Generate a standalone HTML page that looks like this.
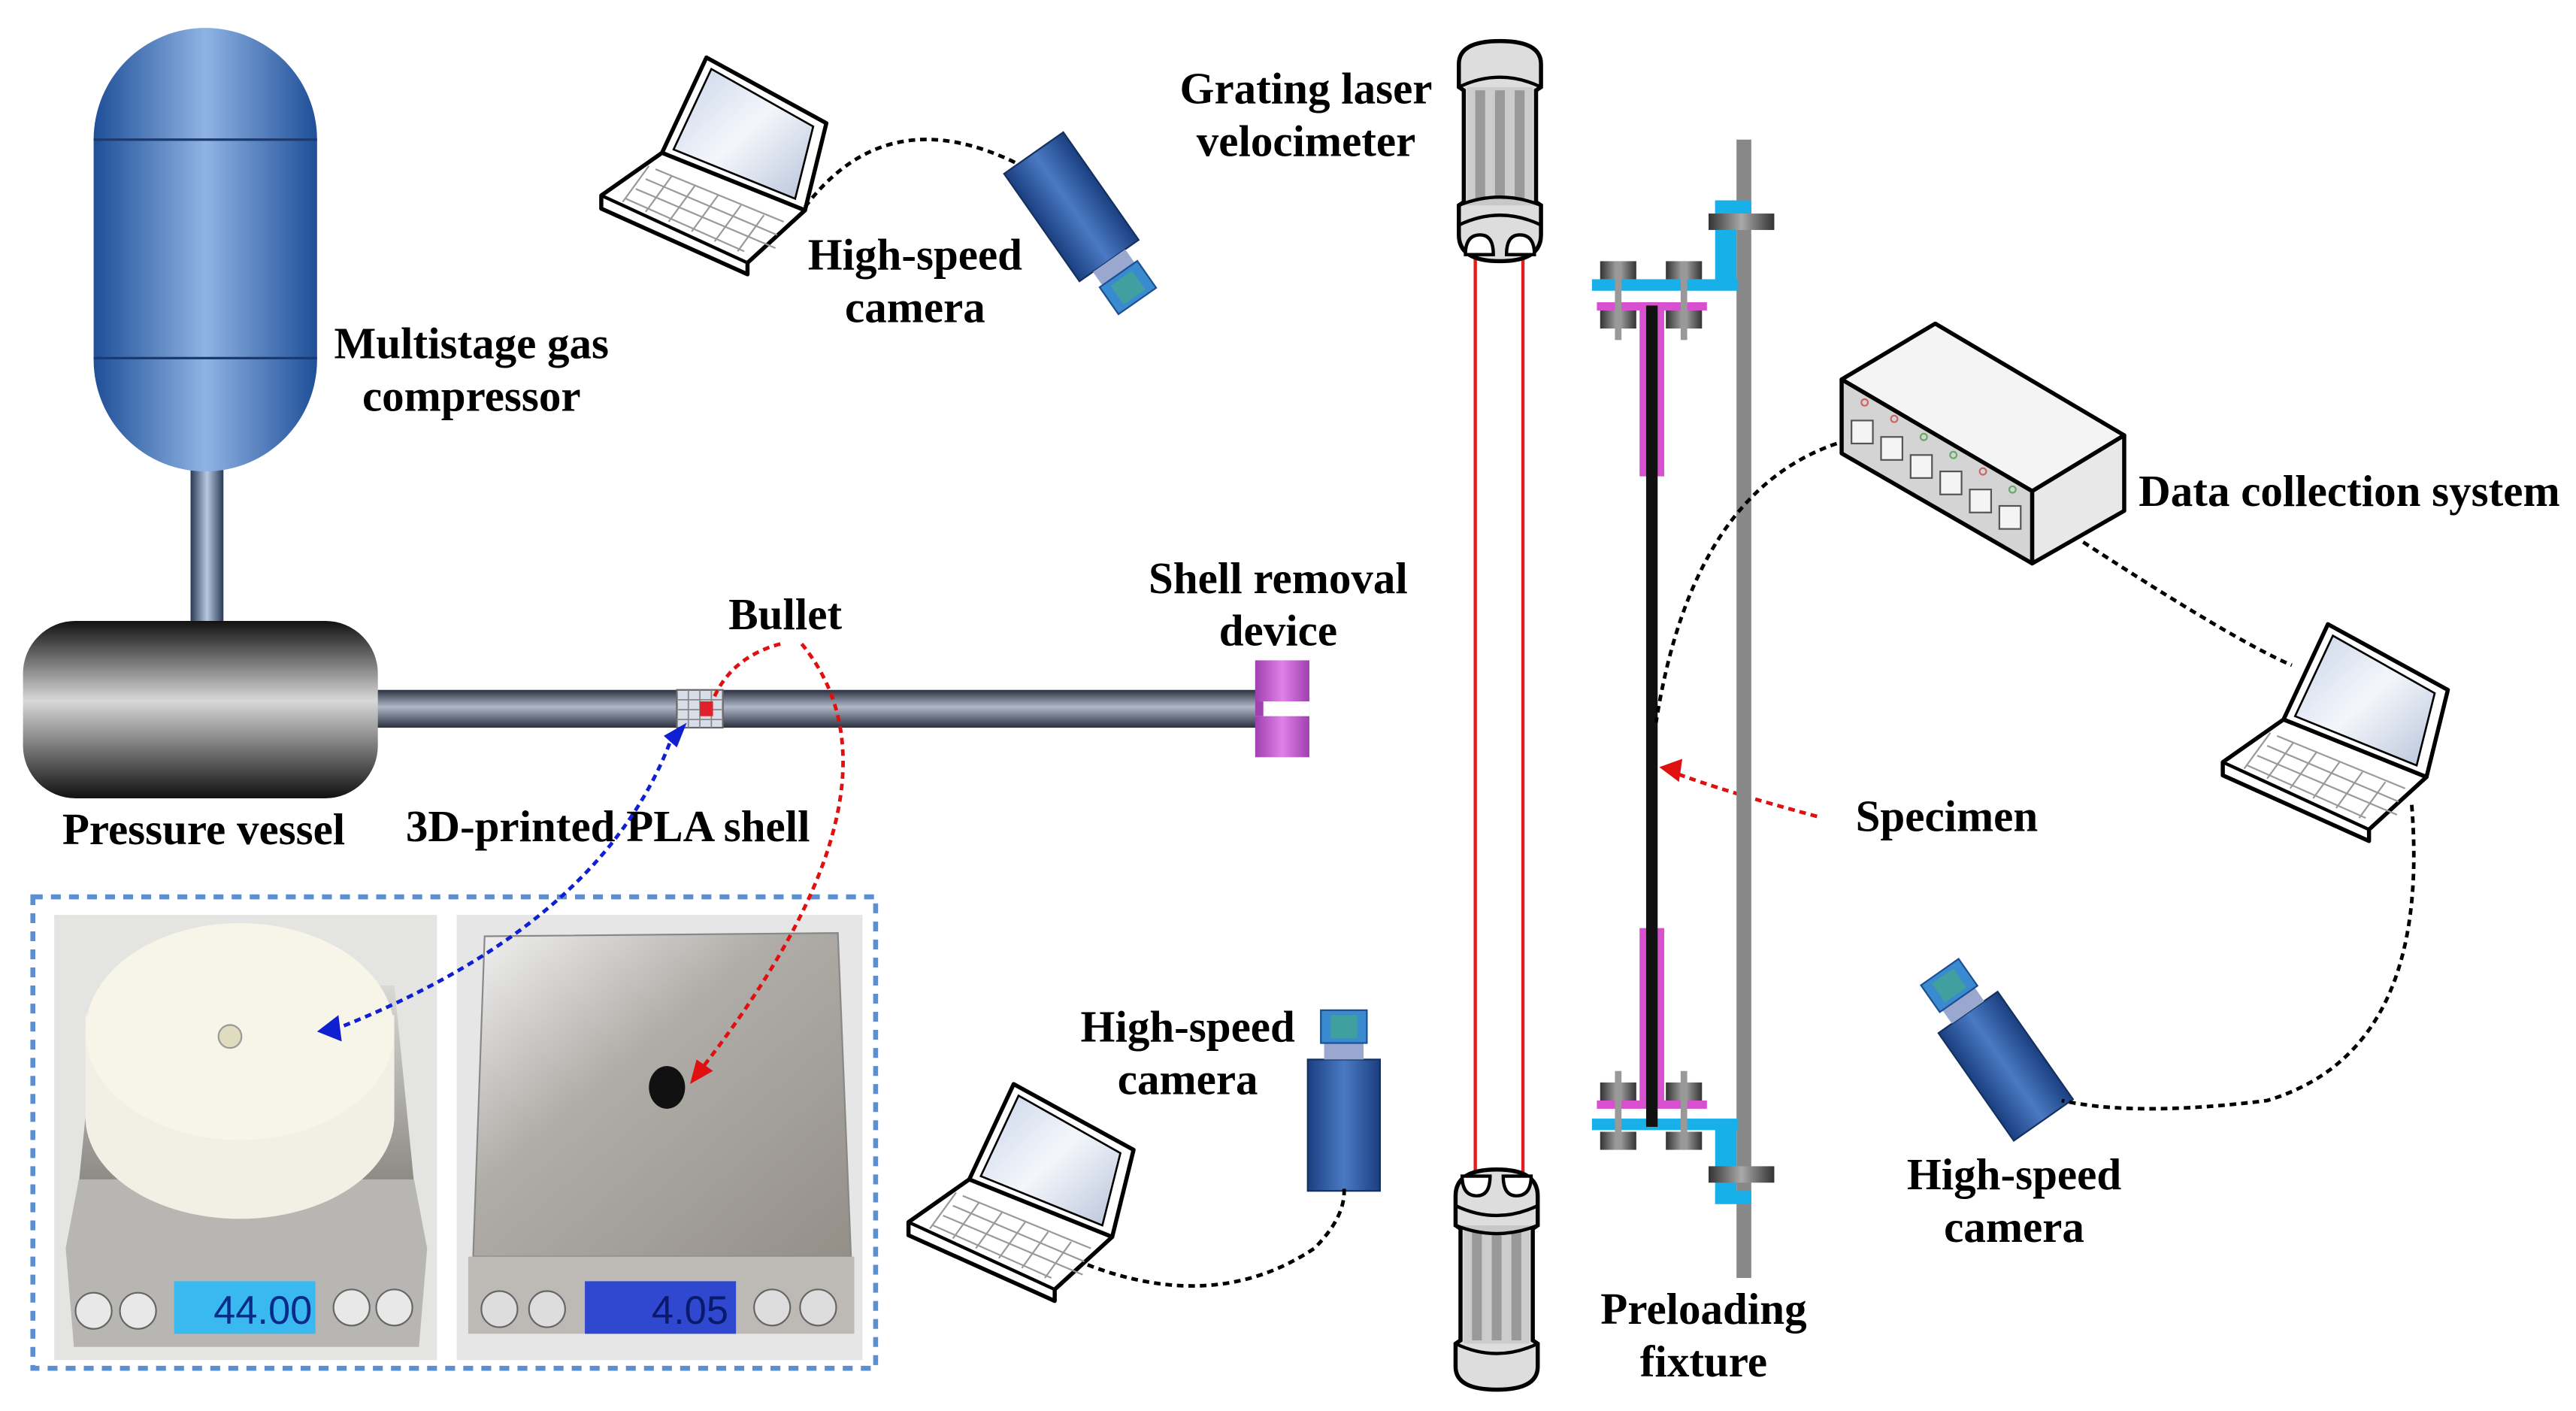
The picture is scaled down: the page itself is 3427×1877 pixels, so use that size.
<!DOCTYPE html>
<html><head><meta charset="utf-8"><style>
html,body{margin:0;padding:0;background:#fff;width:3427px;height:1877px;overflow:hidden}
svg{display:block}
text{font-family:"Liberation Serif",serif;font-weight:bold;font-size:27px;fill:#000;text-anchor:middle}
</style></head><body>
<svg width="3427" height="1877" viewBox="0 0 1568 859" preserveAspectRatio="none" xmlns="http://www.w3.org/2000/svg">
<defs>
<linearGradient id="gBlue" x1="0" x2="1" y1="0" y2="0">
<stop offset="0" stop-color="#1f4f98"/><stop offset="0.5" stop-color="#8fb3e3"/><stop offset="1" stop-color="#1f4f98"/></linearGradient>
<linearGradient id="gDark" x1="0" x2="0" y1="0" y2="1">
<stop offset="0" stop-color="#111"/><stop offset="0.45" stop-color="#d8d8d8"/><stop offset="1" stop-color="#111"/></linearGradient>
<linearGradient id="gBar" x1="0" x2="0" y1="0" y2="1">
<stop offset="0" stop-color="#2a3040"/><stop offset="0.45" stop-color="#b0b8c8"/><stop offset="1" stop-color="#2a3040"/></linearGradient>
<linearGradient id="gPipe" x1="0" x2="1" y1="0" y2="0">
<stop offset="0" stop-color="#2a3a55"/><stop offset="0.5" stop-color="#b8c8e0"/><stop offset="1" stop-color="#2a3a55"/></linearGradient>
<linearGradient id="gCam" x1="0" x2="1" y1="0" y2="0">
<stop offset="0" stop-color="#1b3f80"/><stop offset="0.5" stop-color="#4a7ac4"/><stop offset="1" stop-color="#1b3f80"/></linearGradient>
<linearGradient id="gNut" x1="0" x2="1" y1="0" y2="0">
<stop offset="0" stop-color="#333"/><stop offset="0.5" stop-color="#aaa"/><stop offset="1" stop-color="#333"/></linearGradient>
<linearGradient id="gPurple" x1="0" x2="1" y1="0" y2="0">
<stop offset="0" stop-color="#a040b0"/><stop offset="0.5" stop-color="#e080e8"/><stop offset="1" stop-color="#a040b0"/></linearGradient>
<linearGradient id="gScreen" x1="0" x2="1" y1="0" y2="1">
<stop offset="0" stop-color="#c8d4e8"/><stop offset="0.5" stop-color="#f4f6fb"/><stop offset="1" stop-color="#b8c4da"/></linearGradient>
<linearGradient id="gScaleL" x1="0" x2="0" y1="0" y2="1">
<stop offset="0" stop-color="#d8d8d6"/><stop offset="1" stop-color="#8d8a85"/></linearGradient>
<linearGradient id="gScaleR" x1="0" x2="1" y1="0" y2="1">
<stop offset="0" stop-color="#f2f2f2"/><stop offset="0.4" stop-color="#b0ada8"/><stop offset="1" stop-color="#948f88"/></linearGradient>
<g id="laptop">
<path d="M38,58 L125,93 L90,125 L90,132 L1,92 L1,84 Z" fill="#fff" stroke="#000" stroke-width="2.5" stroke-linejoin="round"/>
<path d="M1,84 L90,125 L125,93" fill="none" stroke="#000" stroke-width="2"/>
<path d="M38,58 L65,0 L138,40 L125,93 Z" fill="#fff" stroke="#000" stroke-width="2.5" stroke-linejoin="round"/>
<path d="M45,56 L68,7 L130,42 L119,86 Z" fill="url(#gScreen)" stroke="#000" stroke-width="1.2"/>
<g stroke="#999" stroke-width="1" fill="none">
<path d="M22,80 l85,36 M28,74 l80,34 M34,68 l78,32 M16,86 l72,32"/>
<path d="M30,66 l-16,22 M44,72 l-16,22 M58,78 l-16,22 M72,84 l-16,22 M86,90 l-16,22 M100,96 l-16,22"/>
</g>
</g>
<g id="velo">
<path d="M3,14 Q3,0 28,0 Q53,0 53,14 L53,28 L50,30 L50,98 L53,100 L53,118 Q53,134 28,134 Q3,134 3,118 L3,100 L6,98 L6,30 L3,28 Z" fill="#ddd" stroke="#000" stroke-width="2.5"/>
<rect x="8" y="28" width="40" height="72" fill="#ccc"/>
<g fill="#999"><rect x="13" y="30" width="6" height="68"/><rect x="25" y="30" width="6" height="68"/><rect x="37" y="30" width="6" height="68"/></g>
<path d="M3,28 Q28,16 53,28" fill="none" stroke="#000" stroke-width="2"/>
<path d="M3,100 Q28,90 53,100" fill="#c8c8c8" stroke="#000" stroke-width="2"/>
<path d="M3,112 Q28,100 53,112" fill="none" stroke="#000" stroke-width="2"/>
<path d="M7,130 Q7,118 16,118 Q24,118 24,130 Z" fill="#fff" stroke="#000" stroke-width="2"/>
<path d="M32,130 Q32,118 40,118 Q49,118 49,130 Z" fill="#fff" stroke="#000" stroke-width="2"/>
</g>
<g id="cam">
<rect x="-22" y="-45" width="44" height="80" fill="url(#gCam)" stroke="#14305e" stroke-width="1"/>
<rect x="-12" y="35" width="24" height="10" fill="#9aa8d0"/>
<rect x="-14" y="45" width="28" height="20" fill="#3a8ad0" stroke="#1b4f90"/>
<rect x="-8" y="48" width="16" height="14" fill="#40a0a0"/>
</g>
<g id="nut"><rect x="0" y="0" width="22" height="11" fill="url(#gNut)"/></g>
</defs>

<rect x="116" y="280" width="20" height="102" fill="url(#gPipe)"/>
<rect x="57" y="17" width="136" height="270" rx="68" ry="68" fill="url(#gBlue)"/>
<line x1="57" y1="85" x2="193" y2="85" stroke="#1b3a70" stroke-width="1.5"/>
<line x1="57" y1="218" x2="193" y2="218" stroke="#1b3a70" stroke-width="1.5"/>
<rect x="225" y="420" width="545" height="23" fill="url(#gBar)"/>
<rect x="14" y="378" width="216" height="108" rx="32" ry="32" fill="url(#gDark)"/>
<rect x="412" y="420" width="28" height="23" fill="#d8dde8" stroke="#666" stroke-width="1"/>
<g stroke="#888" stroke-width="0.8"><path d="M412,426 h28 M412,432 h28 M412,438 h28 M419,420 v23 M426,420 v23 M433,420 v23"/></g>
<rect x="426" y="427" width="8" height="9" fill="#e0202a"/>
<rect x="764" y="402" width="33" height="59" fill="url(#gPurple)"/>
<rect x="764" y="427" width="33" height="9" fill="#fff"/>
<rect x="764" y="427" width="5" height="9" fill="#a040b0"/>

<text x="287" y="218">Multistage gas</text>
<text x="287" y="250">compressor</text>
<text x="124" y="514">Pressure vessel</text>
<text x="478" y="383">Bullet</text>
<text x="370" y="512">3D-printed PLA shell</text>
<text x="778" y="361">Shell removal</text>
<text x="778" y="393">device</text>
<text x="557" y="164">High-speed</text>
<text x="557" y="196">camera</text>
<text x="795" y="63">Grating laser</text>
<text x="795" y="95">velocimeter</text>
<text x="1430" y="308">Data collection system</text>
<text x="1185" y="506">Specimen</text>
<text x="723" y="634">High-speed</text>
<text x="723" y="666">camera</text>
<text x="1037" y="806">Preloading</text>
<text x="1037" y="838">fixture</text>
<text x="1226" y="724">High-speed</text>
<text x="1226" y="756">camera</text>

<rect x="20" y="546" width="513" height="287" fill="none" stroke="#5b8fd0" stroke-width="3" stroke-dasharray="6,5"/>
<rect x="33" y="557" width="233" height="271" fill="#e4e4e2"/>
<path d="M48,720 L60,600 L240,600 L252,720 Z" fill="url(#gScaleL)"/>
<path d="M40,760 L48,718 L252,718 L260,760 L255,820 L45,820 Z" fill="#b8b6b2"/>
<ellipse cx="146" cy="680" rx="94" ry="62" fill="#f2f0e4"/>
<rect x="52" y="618" width="188" height="62" fill="#f2f0e4"/>
<ellipse cx="146" cy="628" rx="94" ry="66" fill="#f7f5e8"/>
<circle cx="140" cy="631" r="7" fill="#e0dcc0" stroke="#999" stroke-width="1"/>
<rect x="106" y="780" width="86" height="32" fill="#3ab8f0"/>
<text x="160" y="806" style="font-family:'Liberation Sans',sans-serif;font-weight:normal;font-size:24px;fill:#0a2a8a">44.00</text>
<circle cx="57" cy="798" r="11" fill="#e8e8e8" stroke="#666"/><circle cx="84" cy="798" r="11" fill="#e8e8e8" stroke="#666"/>
<circle cx="214" cy="796" r="11" fill="#e8e8e8" stroke="#666"/><circle cx="240" cy="796" r="11" fill="#e8e8e8" stroke="#666"/>

<rect x="278" y="557" width="247" height="271" fill="#e6e6e6"/>
<path d="M295,570 L510,568 L518,765 L288,765 Z" fill="url(#gScaleR)" stroke="#888"/>
<path d="M285,765 L520,765 L520,812 L285,812 Z" fill="#bdbab5"/>
<ellipse cx="406" cy="662" rx="11" ry="13" fill="#111"/>
<rect x="356" y="780" width="92" height="32" fill="#3048d0"/>
<text x="420" y="806" style="font-family:'Liberation Sans',sans-serif;font-weight:normal;font-size:24px;fill:#0a1a6a">4.05</text>
<circle cx="304" cy="797" r="11" fill="#ddd" stroke="#666"/><circle cx="333" cy="797" r="11" fill="#ddd" stroke="#666"/>
<circle cx="470" cy="796" r="11" fill="#ddd" stroke="#666"/><circle cx="498" cy="796" r="11" fill="#ddd" stroke="#666"/>

<path d="M475,392 Q445,400 434,426" fill="none" stroke="#e01010" stroke-width="2.2" stroke-dasharray="4,3"/>
<path d="M488,392 Q560,480 426,652" fill="none" stroke="#e01010" stroke-width="2.2" stroke-dasharray="4,3"/>
<polygon points="420,660 424,645 434,652" fill="#e01010"/>
<path d="M410,446 Q370,560 208,625" fill="none" stroke="#1020d0" stroke-width="2.2" stroke-dasharray="4,3"/>
<polygon points="193,628 206,618 208,634" fill="#1020d0"/>
<polygon points="418,440 404,448 412,455" fill="#1020d0"/>
<path d="M1106,497 Q1050,482 1018,470" fill="none" stroke="#e01010" stroke-width="2.2" stroke-dasharray="4,3"/>
<polygon points="1010,467 1024,462 1022,476" fill="#e01010"/>

<line x1="898" y1="155" x2="898" y2="716" stroke="#e02020" stroke-width="2"/>
<line x1="927" y1="155" x2="927" y2="716" stroke="#e02020" stroke-width="2"/>
<use href="#velo" transform="translate(885,25)"/>
<use href="#velo" transform="translate(883,846) scale(1,-1)"/>

<rect x="1057" y="85" width="9" height="693" fill="#888"/>
<rect x="1044" y="122" width="13" height="50" fill="#18b0e8"/>
<rect x="1044" y="122" width="22" height="8" fill="#18b0e8"/>
<rect x="969" y="170" width="89" height="7" fill="#18b0e8"/>
<rect x="1044" y="683" width="13" height="50" fill="#18b0e8"/>
<rect x="1044" y="725" width="22" height="8" fill="#18b0e8"/>
<rect x="969" y="681" width="89" height="7" fill="#18b0e8"/>
<rect x="972" y="184" width="67" height="5" fill="#d850d0"/>
<rect x="998" y="184" width="15" height="106" fill="#d850d0"/>
<rect x="972" y="670" width="67" height="5" fill="#d850d0"/>
<rect x="998" y="565" width="15" height="108" fill="#d850d0"/>
<rect x="1002" y="186" width="7" height="500" fill="#111"/>
<use href="#nut" transform="translate(974,159)"/><use href="#nut" transform="translate(1014,159)"/>
<use href="#nut" transform="translate(974,189)"/><use href="#nut" transform="translate(1014,189)"/>
<use href="#nut" transform="translate(974,659)"/><use href="#nut" transform="translate(1014,659)"/>
<use href="#nut" transform="translate(974,689)"/><use href="#nut" transform="translate(1014,689)"/>
<g fill="#999"><rect x="983" y="159" width="4" height="48"/><rect x="1023" y="159" width="4" height="48"/>
<rect x="983" y="652" width="4" height="48"/><rect x="1023" y="652" width="4" height="48"/></g>
<rect x="1040" y="130" width="40" height="10" fill="url(#gNut)"/>
<rect x="1040" y="710" width="40" height="10" fill="url(#gNut)"/>

<polygon points="1121,231 1178,197 1293,265 1237,299" fill="#f4f4f4" stroke="#000" stroke-width="2.5" stroke-linejoin="round"/>
<polygon points="1121,231 1237,299 1237,343 1121,276" fill="#d4d4d4" stroke="#000" stroke-width="2.5" stroke-linejoin="round"/>
<polygon points="1237,299 1293,265 1293,311 1237,343" fill="#e8e8e8" stroke="#000" stroke-width="2.5" stroke-linejoin="round"/>
<g fill="#f4f4f4" stroke="#555" stroke-width="1">
<rect x="1127" y="256" width="13" height="14"/><rect x="1145" y="266" width="13" height="14"/><rect x="1163" y="277" width="13" height="14"/>
<rect x="1181" y="287" width="13" height="14"/><rect x="1199" y="298" width="13" height="14"/><rect x="1217" y="308" width="13" height="14"/></g>
<g fill="none" stroke-width="1"><circle cx="1135" cy="245" r="2" stroke="#c66"/><circle cx="1153" cy="255" r="2" stroke="#c66"/><circle cx="1171" cy="266" r="2" stroke="#6a6"/><circle cx="1189" cy="277" r="2" stroke="#6a6"/><circle cx="1207" cy="287" r="2" stroke="#c66"/><circle cx="1225" cy="298" r="2" stroke="#6a6"/></g>

<use href="#laptop" transform="translate(365,35)"/>
<use href="#laptop" transform="translate(1352,380)"/>
<use href="#laptop" transform="translate(552,660)"/>

<use href="#cam" transform="translate(655,130) rotate(-35)"/>
<use href="#cam" transform="translate(818,680) rotate(180)"/>
<use href="#cam" transform="translate(1218,645) rotate(145)"/>

<g fill="none" stroke="#000" stroke-width="2.2" stroke-dasharray="4,3">
<path d="M490,126 Q540,60 620,100"/>
<path d="M1118,270 Q1030,300 1008,440"/>
<path d="M1268,330 Q1360,390 1395,405"/>
<path d="M1468,490 Q1480,640 1380,670 Q1300,680 1255,670"/>
<path d="M662,770 Q740,800 800,760 Q820,740 818,722"/>
</g>
</svg>
</body></html>
